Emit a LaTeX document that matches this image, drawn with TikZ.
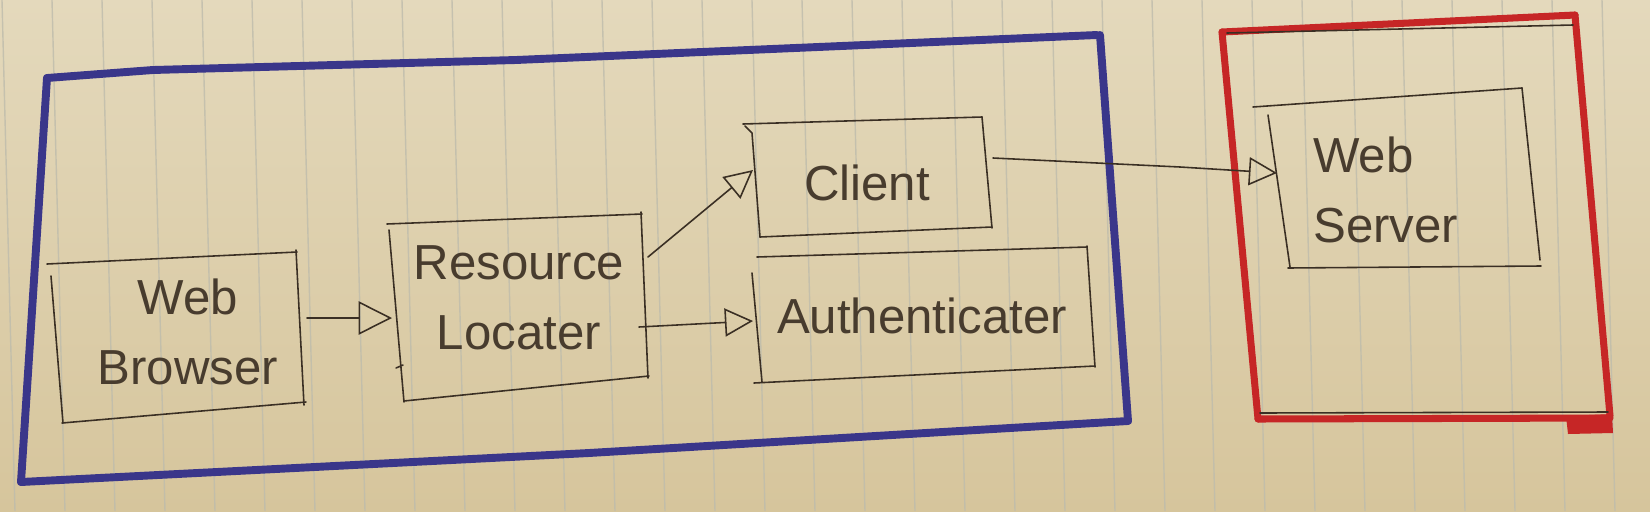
\documentclass[tikz,border=0pt]{standalone}
\usepackage{fontspec}
\setmainfont{Liberation Sans}
\usetikzlibrary{arrows.meta}
\definecolor{papertop}{RGB}{228,217,188}
\definecolor{paperbot}{RGB}{214,197,156}
\definecolor{rulecol}{RGB}{190,188,172}
\definecolor{ink}{RGB}{58,47,36}
\definecolor{textink}{RGB}{72,60,46}
\definecolor{blueink}{RGB}{58,54,138}
\definecolor{redink}{RGB}{198,38,38}
\tikzset{
  pen/.style={draw=ink, line width=0.9pt, line cap=round, line join=round},
  bluepen/.style={draw=blueink, line width=4.5pt, line cap=round, line join=round},
  redpen/.style={draw=redink, line width=4pt, line cap=round, line join=round},
  hand/.style={text=textink, font=\fontsize{28}{40}\selectfont, inner sep=0pt},
  flow/.style={pen, -{Triangle[open, length=#1, width=#1, line width=0.9pt]}},
  flow/.default=17pt
}
\begin{document}
\begin{tikzpicture}[x=0.02cm, y=-0.02cm]
\useasboundingbox (0,0) rectangle (1650,511);
% paper
\shade[top color=papertop, bottom color=paperbot] (0,0) rectangle (1650,511);
\foreach \k in {0,...,33}
  \draw[rulecol, line width=0.8pt, opacity=0.8] ({2+50*\k},0) -- ({15+50*\k},511);

% outer blue frame
\draw[bluepen] (47,78) -- (153,70) -- (516,60) -- (1097,35);
\draw[bluepen] (1100,35) -- (1128,421);
\draw[bluepen] (1128,421) -- (589,453) -- (21,482);
\draw[bluepen] (47,78) -- (21,482);

% outer red frame
\draw[redpen] (1222,32) -- (1575,15);
\draw[redpen] (1575,15) -- (1610,416);
\draw[redpen] (1610,418) -- (1258,419);
\draw[redpen] (1222,32) -- (1258,419);
\fill[redink] (1566,416) -- (1612,414) -- (1613,433) -- (1568,434) -- cycle;
\draw[pen] (1227,33) -- (1573,25);
\draw[pen] (1260,413) -- (1608,412);

% Web Browser box
\draw[pen] (47,264) -- (297,252);
\draw[pen] (296,250) -- (304,405);
\draw[pen] (306,402) -- (62,423);
\draw[pen] (51,276) -- (63,423);
\node[hand, align=center] (wb) at (188,332) {Web\\Browser};

% Resource Locater box
\draw[pen] (387,224) -- (642,214);
\draw[pen] (641,212) -- (648,378);
\draw[pen] (649,376) -- (404,401);
\draw[pen] (389,230) -- (404,402);
\draw[pen] (403,365) -- (396,368);
\node[hand, align=center] (rl) at (519,298) {Resource\\Locater};

% Client box
\draw[pen] (743,124) -- (982,117);
\draw[pen] (982,117) -- (992,228);
\draw[pen] (992,227) -- (760,237);
\draw[pen] (745,126) -- (752,133) -- (760,237);
\node[hand] (cl) at (867,183) {Client};

% Authenticater box
\draw[pen] (757,257) -- (1087,247);
\draw[pen] (1087,246) -- (1095,367);
\draw[pen] (1095,366) -- (754,383);
\draw[pen] (752,273) -- (762,382);
\node[hand] (au) at (922,316) {Authenticater};

% Web Server box
\draw[pen] (1253,107) -- (1522,88);
\draw[pen] (1522,88) -- (1540,260);
\draw[pen] (1541,266) -- (1288,268);
\draw[pen] (1268,115) -- (1290,267);
\node[hand, align=left, anchor=west] (ws) at (1313,190) {Web\\Server};

% connector ends
\coordinate (wbE) at (307,318);
\coordinate (rlW) at (392,318);
\coordinate (rlNE) at (648,257);
\coordinate (clW) at (753,170);
\coordinate (rlE) at (639,327);
\coordinate (auW) at (753,321);
\coordinate (clE) at (993,158);
\coordinate (wsM) at (1180,167);
\coordinate (wsW) at (1277,173);

\draw[flow=19pt] (wbE) -- (rlW);
\draw[flow=16pt] (rlNE) -- (clW);
\draw[flow=16pt] (rlE) -- (auW);
\draw[flow=16pt] (clE) -- (wsM) -- (wsW);
\end{tikzpicture}
\end{document}
